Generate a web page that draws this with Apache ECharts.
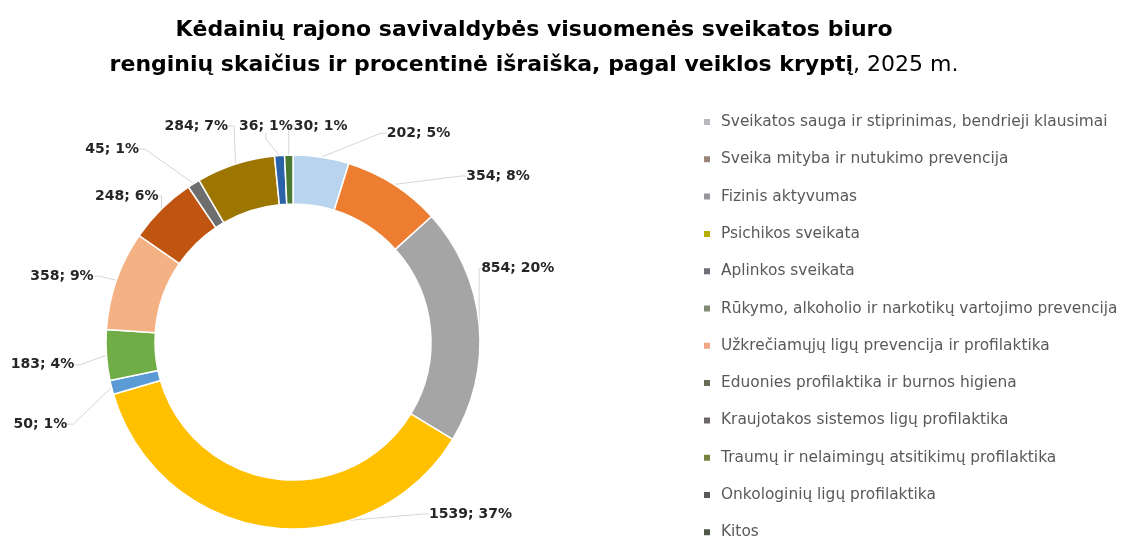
<!DOCTYPE html>
<html>
<head>
<meta charset="utf-8">
<script src="https://cdn.jsdelivr.net/npm/echarts@6/dist/echarts.min.js"></script>
<style>html,body{margin:0;padding:0;background:#fff}#c{width:1134px;height:536px}</style>
</head>
<body>
<div id="c"></div>
<script>
const categories = [
  'Sveikatos sauga ir stiprinimas, bendrieji klausimai',
  'Sveika mityba ir nutukimo prevencija',
  'Fizinis aktyvumas',
  'Psichikos sveikata',
  'Aplinkos sveikata',
  'Rūkymo, alkoholio ir narkotikų vartojimo prevencija',
  'Užkrečiamųjų ligų prevencija ir profilaktika',
  'Eduonies profilaktika ir burnos higiena',
  'Kraujotakos sistemos ligų profilaktika',
  'Traumų ir nelaimingų atsitikimų profilaktika',
  'Onkologinių ligų profilaktika',
  'Kitos'
];
const values = [202, 354, 854, 1539, 50, 183, 358, 248, 45, 284, 36, 30];
const sliceColors = ['#b8d4ee', '#ed7d31', '#a5a5a5', '#ffc000', '#5b9bd5', '#70ad47', '#f4b183', '#bf5511', '#6e6e6e', '#9c7600', '#2a62a8', '#4a7a30'];
const legendColors = ['#b9b9bd', '#9a8478', '#98969a', '#b5b000', '#6d6f78', '#7f8a72', '#f0a888', '#6b6a55', '#6b6666', '#7a8040', '#5a5a5a', '#4f5848'];
// manual nudges of the data labels (as in the original, where labels were dragged)
const labelNudge = [[53, -14], [56, 0], [-19, -55], [256, -14], [-28, 39], [-16, 13], [-8, 1], [17, -13], [-19, -44], [49, -51], [84, -35], [70, -19]];

const total = values.reduce((a, b) => a + b, 0);
const chart = echarts.init(document.getElementById('c'));
chart.setOption({
  backgroundColor: '#fff',
  animation: false,
  title: {
    left: 529,
    textAlign: 'center',
    top: 8,
    text: '{b|Kėdainių rajono savivaldybės visuomenės sveikatos biuro}\n{b|renginių skaičius ir procentinė išraiška, pagal veiklos kryptį}{n|, 2025 m.}',
    textStyle: {
      rich: {
        b: { fontFamily: 'DejaVu Sans', fontWeight: 'bold', fontSize: 22, color: '#000', lineHeight: 35 },
        n: { fontFamily: 'DejaVu Sans', fontWeight: 'normal', fontSize: 22, color: '#000', lineHeight: 35 }
      }
    }
  },
  legend: {
    orient: 'vertical',
    left: 697,
    top: 107,
    height: 700,
    itemWidth: 8,
    itemHeight: 8,
    itemGap: 17.3,
    icon: 'rect',
    textStyle: { fontFamily: 'DejaVu Sans', fontSize: 15.4, color: '#595959', lineHeight: 20, padding: [0, 0, 0, 5] },
    data: categories.map((n, i) => ({ name: n, itemStyle: { color: legendColors[i] } }))
  },
  series: [{
    type: 'pie',
    center: [293, 342],
    radius: [138, 187],
    startAngle: 90,
    clockwise: true,
    avoidLabelOverlap: true,
    itemStyle: { borderColor: '#fff', borderWidth: 1.5 },
    label: {
      show: true,
      position: 'outside',
      overflow: 'none',
      fontFamily: 'DejaVu Sans',
      fontWeight: 'bold',
      fontSize: 14,
      color: '#262626',
      formatter: p => p.value + '; ' + Math.round(p.value / total * 100) + '%'
    },
    labelLine: { show: true, length: 10, length2: 6, lineStyle: { color: '#d6d6d6', width: 1 } },
    labelLayout: p => ({
      x: p.labelRect.x + labelNudge[p.dataIndex][0],
      y: p.labelRect.y + labelNudge[p.dataIndex][1],
      align: 'left',
      verticalAlign: 'top'
    }),
    data: categories.map((n, i) => ({ name: n, value: values[i], itemStyle: { color: sliceColors[i] } }))
  }]
});
</script>
</body>
</html>
